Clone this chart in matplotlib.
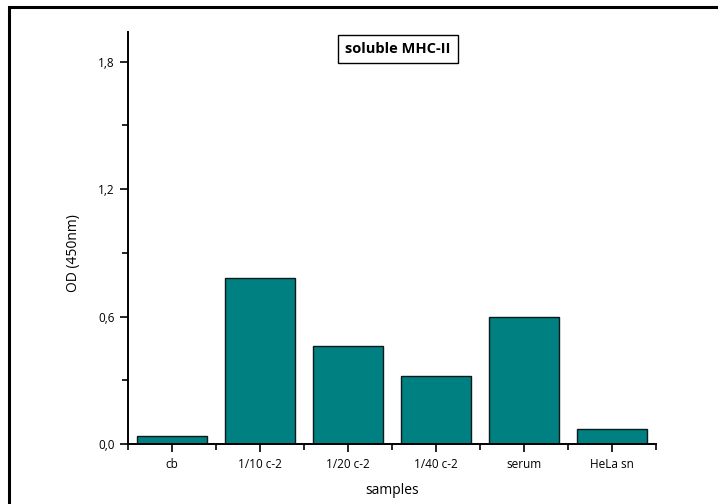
import matplotlib.pyplot as plt
from matplotlib.patches import Rectangle
from matplotlib.ticker import MultipleLocator, FuncFormatter
import numpy as np

# OD readings per sample
samples = ['cb', '1/10 c-2', '1/20 c-2', '1/40 c-2', 'serum', 'HeLa sn']
od_450 = [0.04, 0.78, 0.46, 0.32, 0.60, 0.07]

plt.rcParams['font.family'] = ['Open Sans', 'DejaVu Sans']

fig = plt.figure(figsize=(7.18, 5.04), dpi=100)
ax = fig.add_axes([0.1783, 0.119, 0.7353, 0.8175])

x = np.arange(len(samples))
ax.bar(x, od_450, width=0.8, color='#008080', edgecolor='#0a1a1a', linewidth=1.0)

ax.set_xlim(-0.5, 5.5)
ax.set_ylim(0, 1.94)

# ticks: categories at bar centres, minor ticks on the boundaries
ax.set_xticks(x)
ax.set_xticklabels(samples, fontsize=8.5)
ax.set_xticks(np.arange(-0.5, 6, 1.0), minor=True)
ax.yaxis.set_major_locator(MultipleLocator(0.6))
ax.yaxis.set_minor_locator(MultipleLocator(0.3))
ax.yaxis.set_major_formatter(FuncFormatter(lambda v, p: f'{v:.1f}'.replace('.', ',')))
ax.tick_params(axis='both', which='major', direction='out', length=6, width=1.2,
               labelsize=8.5, color='black')
ax.tick_params(axis='both', which='minor', direction='out', length=4, width=1.2)
ax.tick_params(axis='x', pad=4)

for side in ['top', 'right']:
    ax.spines[side].set_visible(False)
for side in ['left', 'bottom']:
    ax.spines[side].set_linewidth(1.4)

ax.set_xlabel('samples', fontsize=10)
ax.xaxis.set_label_coords(0.5, -0.095)
ax.set_ylabel('OD (450nm)', fontsize=10)
ax.yaxis.set_label_coords(-0.09, 0.464)

ax.text(0.511, 0.959, 'soluble MHC-II', transform=ax.transAxes, fontsize=10.5,
        fontweight='bold', ha='center', va='center',
        bbox=dict(boxstyle='square,pad=0.5', facecolor='white', edgecolor='black', linewidth=1.0))

# outer frame around the figure
fig.patches.append(Rectangle((9 / 718, -0.5), 2.0, 1 - 7 / 504 + 0.5, transform=fig.transFigure,
                             fill=False, edgecolor='black', linewidth=2.2))

fig.savefig('out.png', dpi=100)
